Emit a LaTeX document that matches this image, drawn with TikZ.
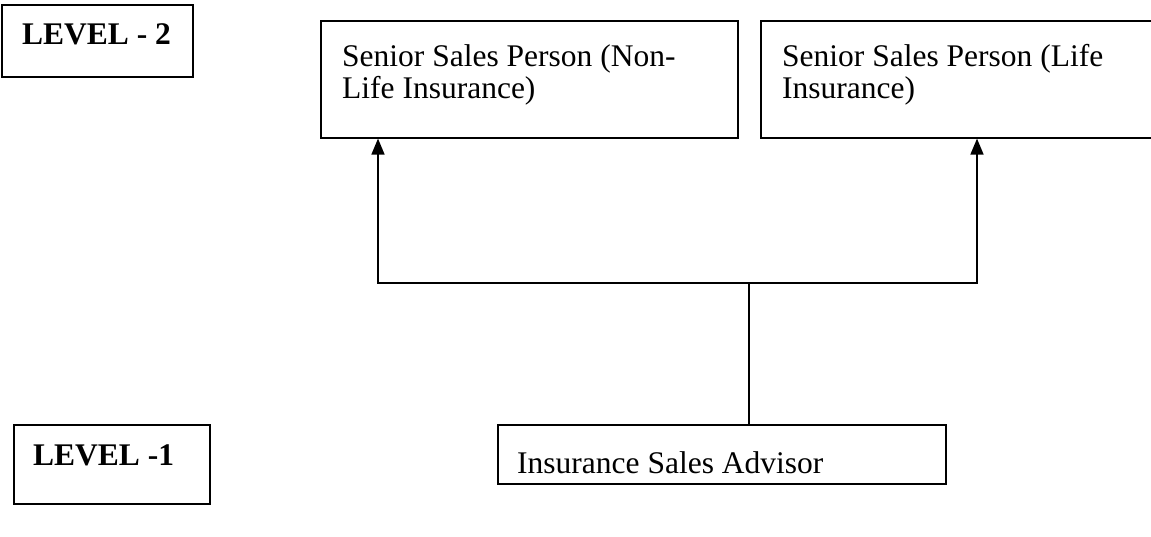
\documentclass[tikz,border=0pt]{standalone}
\usepackage{fontspec}
\setmainfont{Liberation Serif}
\usetikzlibrary{arrows.meta}
\begin{document}
\begin{tikzpicture}[x=1pt,y=-1pt,
  box/.style={draw,line width=1.6pt,rectangle,inner sep=0pt,anchor=north west},
  txt/.style={anchor=base west,inner sep=0pt,font=\fontsize{31.5}{32.5}\selectfont,align=left},
  btxt/.style={txt,font=\fontsize{31.5}{32.5}\selectfont\bfseries},
  conn/.style={line width=1.6pt},
  arr/.style={conn,-{Triangle[length=16pt,width=13pt]}}]
\useasboundingbox (0,0) rectangle (1151,537);
% boxes
\node[box,minimum width=191pt,minimum height=72pt] (l2) at (1,4) {};
\node[box,minimum width=417pt,minimum height=117pt] (nonlife) at (320,20) {};
\node[box,minimum width=420pt,minimum height=117pt] (life) at (760,20) {};
\node[box,minimum width=196pt,minimum height=79pt] (l1) at (13,424) {};
\node[box,minimum width=448pt,minimum height=59pt] (adv) at (497,424) {};
% texts
\node[btxt] (l2t) at (22,45) {LEVEL - 2};
\node[btxt] (l1t) at (33,465) {LEVEL -1};
\node[txt] (nlt) at (342,99) {Senior Sales Person (Non-\\Life Insurance)};
\node[txt] (lt) at (782,99) {Senior Sales Person (Life\\Insurance)};
\node[txt] (advt) at (517,473) {Insurance Sales Advisor};
% connectors
\coordinate (j) at (749,283);
\coordinate (t1) at (378,283);
\coordinate (t2) at (977,283);
\draw[conn] (adv.north -| j) -- (j);
\draw[arr] (j) -- (t1) -- (t1 |- nonlife.south);
\draw[arr] (j) -- (t2) -- (t2 |- life.south);
\end{tikzpicture}
\end{document}
